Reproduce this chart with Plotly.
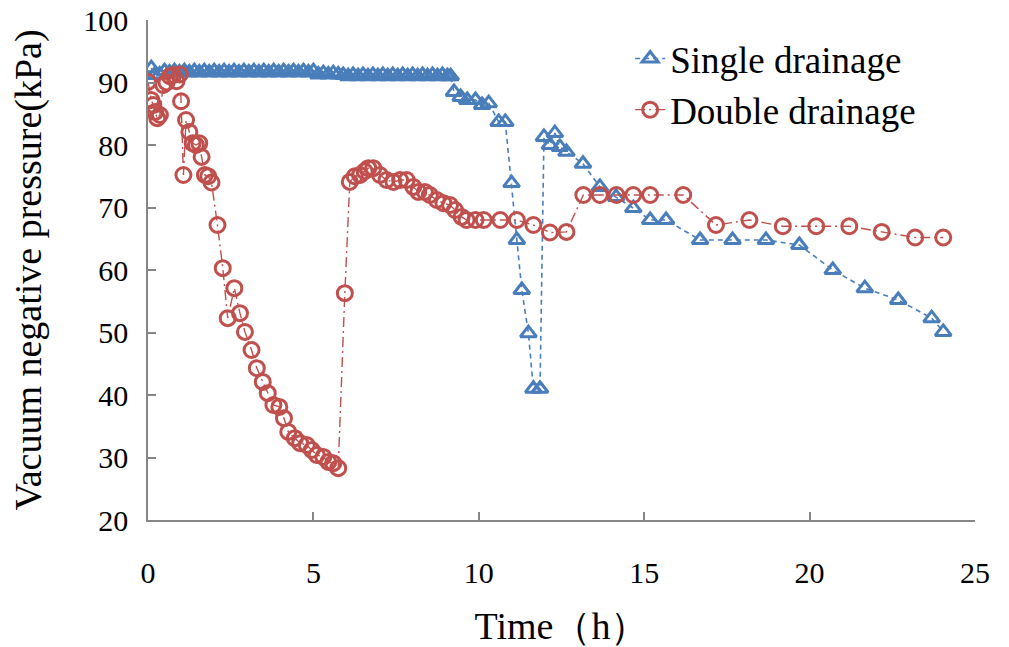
import plotly.graph_objects as go

# Single drainage
t_single = [0.1, 0.2, 0.35, 0.5, 0.65, 0.8, 0.95, 1.1, 1.25, 1.4, 1.55, 1.7, 1.85, 2.0,
            2.15, 2.3, 2.45, 2.6, 2.75, 2.9, 3.05, 3.2, 3.35, 3.5, 3.65, 3.8, 3.95, 4.1,
            4.25, 4.4, 4.55, 4.7, 4.85, 5.0, 5.15, 5.3, 5.45, 5.6, 5.75, 5.9, 6.05, 6.2,
            6.35, 6.5, 6.65, 6.8, 6.95, 7.1, 7.25, 7.4, 7.55, 7.7, 7.85, 8.0, 8.15, 8.3,
            8.45, 8.6, 8.75, 8.9, 9.05, 9.15,
            9.25, 9.45, 9.65, 9.9, 10.1, 10.3, 10.6, 10.8, 10.99, 11.15, 11.3, 11.5,
            11.65, 11.85, 11.97, 12.15, 12.3, 12.45, 12.65, 13.15, 13.66, 14.15, 14.67,
            15.18, 15.66, 16.69, 17.67, 18.68, 19.69, 20.7, 21.67, 22.68, 23.69, 24.04]
v_single = [92.3, 91.2, 91.3, 91.8, 91.6, 91.8, 91.6, 91.8, 91.6, 91.8, 91.6, 91.8, 91.6, 91.8,
            91.6, 91.8, 91.6, 91.8, 91.6, 91.8, 91.6, 91.8, 91.6, 91.8, 91.6, 91.8, 91.6, 91.8,
            91.6, 91.8, 91.6, 91.8, 91.6, 91.8, 91.3, 91.5, 91.3, 91.5, 91.3, 91.2, 91.0, 91.2,
            91.0, 91.2, 91.0, 91.2, 91.0, 91.2, 91.0, 91.2, 91.0, 91.2, 91.0, 91.2, 91.0, 91.2,
            91.0, 91.2, 91.0, 91.2, 91.0, 91.0,
            88.5, 87.7, 87.2, 87.2, 86.4, 86.7, 83.7, 83.7, 73.9, 64.8, 56.8, 49.9,
            41.0, 41.0, 81.3, 80.0, 81.9, 79.7, 78.9, 77.0, 73.3, 71.7, 69.9,
            68.0, 68.0, 64.8, 64.8, 64.8, 64.0, 60.0, 57.1, 55.2, 52.3, 50.1]

# Double drainage
t_double = [0.0, 0.1, 0.16, 0.22, 0.28, 0.36, 0.46, 0.56, 0.66, 0.76, 0.86, 0.96, 1.0, 1.07,
            1.15, 1.25, 1.35, 1.45, 1.55, 1.62, 1.72, 1.82, 1.92, 2.1, 2.26, 2.41, 2.61,
            2.78, 2.93, 3.13, 3.29, 3.47, 3.62, 3.79, 3.97, 4.11, 4.24, 4.44, 4.6, 4.8,
            4.95, 5.1, 5.3, 5.45, 5.6, 5.75, 5.95, 6.1, 6.25, 6.41, 6.55, 6.66, 6.81, 7.01,
            7.21, 7.42, 7.62, 7.82, 8.02, 8.17, 8.37, 8.52, 8.73, 8.93, 9.13, 9.28, 9.48,
            9.63, 9.9, 10.15, 10.65, 11.15, 11.65, 12.15, 12.65, 13.16, 13.66, 14.16,
            14.67, 15.18, 16.18, 17.17, 18.18, 19.19, 20.2, 21.2, 22.18, 23.19, 24.04]
v_double = [90.1, 87.2, 86.4, 85.3, 84.3, 84.8, 89.6, 90.0, 91.0, 91.2, 90.2, 91.3, 87.0, 75.2,
            84.0, 82.1, 80.3, 80.0, 80.3, 78.1, 75.2, 75.0, 74.0, 67.2, 60.3, 52.3, 57.1,
            53.1, 50.1, 47.2, 44.3, 42.1, 40.3, 38.4, 38.1, 36.3, 34.1, 33.1, 32.3, 32.0,
            31.2, 30.4, 30.1, 29.3, 29.1, 28.3, 56.3, 74.1, 75.0, 75.2, 75.8, 76.3, 76.3, 75.2,
            74.4, 74.1, 74.4, 74.4, 73.3, 72.5, 72.5, 72.0, 71.2, 70.7, 70.4, 69.6, 68.5,
            68.0, 68.0, 68.0, 68.0, 68.0, 67.2, 66.0, 66.1, 72.0, 72.0, 72.0,
            72.0, 72.0, 72.0, 67.2, 68.0, 67.0, 67.0, 67.0, 66.1, 65.2, 65.2]

x_ticks = [0, 5, 10, 15, 20, 25]
y_ticks = [20, 30, 40, 50, 60, 70, 80, 90, 100]

BLUE = "#4A7EBB"
RED = "#C0504D"
AX = "#868686"
FONT = "Liberation Serif, Times New Roman, serif"

fig = go.Figure()
fig.add_trace(go.Scatter(
    x=t_single, y=v_single, mode="lines+markers", name="Single drainage",
    line=dict(color=BLUE, width=1.6, dash="5px,4px"),
    marker=dict(symbol="triangle-up-open", size=14, color=BLUE, line=dict(width=3, color=BLUE)),
))
fig.add_trace(go.Scatter(
    x=t_double, y=v_double, mode="lines+markers", name="Double drainage",
    line=dict(color=RED, width=1.4, dash="10px,4px,2px,4px"),
    marker=dict(symbol="circle-open", size=15, color=RED, line=dict(width=3, color=RED)),
))

fig.update_layout(
    width=1009, height=647, autosize=False,
    margin=dict(l=148, r=34, t=20, b=127),
    paper_bgcolor="white", plot_bgcolor="white",
    font=dict(family=FONT, color="black", size=30),
    legend=dict(x=0.583, y=0.984, xanchor="left", yanchor="top",
                font=dict(family=FONT, size=37), bgcolor="rgba(0,0,0,0)",
                tracegroupgap=0, itemwidth=30),
    showlegend=True,
)
fig.update_xaxes(
    range=[0, 25], tickvals=x_ticks, showgrid=False, zeroline=False, automargin=False,
    showline=True, linecolor=AX, linewidth=1.5, ticks="inside", ticklen=8,
    tickcolor=AX, tickwidth=1.5, ticklabelstandoff=25, ticklabeloverflow="allow",
    tickfont=dict(family=FONT, size=30),
    title=dict(text="Time（h）", font=dict(family=FONT, size=38), standoff=36),
)
fig.update_yaxes(
    range=[20, 100], tickvals=y_ticks, showgrid=False, zeroline=False, automargin=False,
    showline=True, linecolor=AX, linewidth=1.5, ticks="inside", ticklen=8,
    tickcolor=AX, tickwidth=1.5, ticklabelstandoff=12, ticklabeloverflow="allow",
    tickfont=dict(family=FONT, size=30),
    title=dict(text="Vacuum negative pressure(kPa)", font=dict(family=FONT, size=38), standoff=30),
)

# remove the browser's default 8px page margin so the figure sits at the window corner
fig.write_html("out.html", config={"displayModeBar": False},
               post_script="document.body.style.margin='0';")
